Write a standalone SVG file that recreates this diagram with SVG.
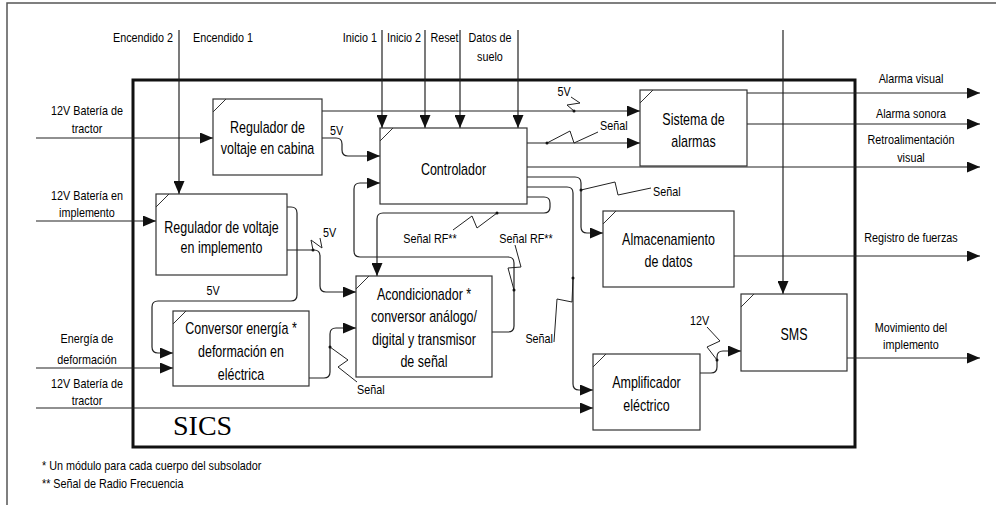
<svg xmlns="http://www.w3.org/2000/svg" width="996" height="505" viewBox="0 0 996 505">
<style>
text{font-family:"Liberation Sans",Arial,sans-serif;fill:#000}
.t{font-size:16px;text-anchor:middle}
.l{font-size:13px}
.m{text-anchor:middle}
.e{text-anchor:end}
.n rect{fill:#fff;stroke:#333;stroke-width:1.2}
.n path{fill:none;stroke:#333;stroke-width:1}
.c path{fill:none;stroke:#222;stroke-width:1.2;marker-end:url(#a)}
.z path{fill:none;stroke:#222;stroke-width:1}
.z circle{fill:#111}
</style>
<defs>
<marker id="a" markerUnits="userSpaceOnUse" markerWidth="13" markerHeight="11" refX="13" refY="5.5" orient="auto">
<path d="M0,0 L13,5.5 L0,11 z" fill="#111"/>
</marker>
</defs>
<rect x="0" y="0" width="996" height="505" fill="#fff"/>
<rect x="7" y="3" width="1000" height="520" fill="none" stroke="#555" stroke-width="1.5"/>
<rect x="133" y="80" width="722" height="367" fill="none" stroke="#111" stroke-width="3"/>
<text x="173" y="435" style="font-family:'Liberation Serif',serif;font-size:28px">SICS</text>

<g id="connectors">
<g class="c">
<path d="M179,30 V194"/>
<path d="M382,30 V128"/>
<path d="M425,30 V128"/>
<path d="M460,30 V128"/>
<path d="M518,30 V128"/>
<path d="M783,30 V294"/>
<path d="M36,138 H213"/>
<path d="M36,221 H156"/>
<path d="M36,368 H173"/>
<path d="M36,408 H593"/>
<path d="M747,93 H980"/>
<path d="M747,124 H980"/>
<path d="M527,167 H980"/>
<path d="M734,256 H980"/>
<path d="M847,358 H980"/>
<path d="M322,111 H640"/>
<path d="M527,143 H640"/>
<path d="M322,138 H336 Q342,138 342,144 V150 Q342,156 348,156 H380"/>
<path d="M527,197 H544 Q550,197 550,203 V207 Q550,213 544,213 H383 Q377,213 377,219 V276"/>
<path d="M492,332 H508 Q514,332 514,326 V263 Q514,257 508,257 H360 Q354,257 354,251 V189 Q354,183 360,183 H380"/>
<path d="M287,250 H314 Q320,250 320,256 V286 Q320,292 326,292 H356"/>
<path d="M287,207 H291 Q297,207 297,213 V295 Q297,301 291,301 H158 Q152,301 152,307 V347 Q152,353 158,353 H173"/>
<path d="M309,378 H324 Q330,378 330,372 V334 Q330,328 336,328 H356"/>
<path d="M527,177 H575 Q581,177 581,183 V227 Q581,233 587,233 H603"/>
<path d="M527,187 H567 Q573,187 573,193 V384 Q573,390 579,390 H593"/>
<path d="M700,373 H711 Q717,373 717,367 V357 Q717,351 723,351 H741"/>
</g>
<g class="z">
<path d="M571,97 L580,103 L567,105 L574,111"/><circle cx="574" cy="111" r="1.5"/>
<path d="M547,143 L570,131 L574,143 L598,132"/><circle cx="547" cy="143" r="1.5"/>
<path d="M497,213 L477,228 L472,216 L453,230"/><circle cx="497" cy="213" r="1.5"/>
<path d="M514,290 L508,268 L521,267 L515,245"/><circle cx="514" cy="290" r="1.5"/>
<path d="M313,250 L311,240 L322,248 L320,238"/><circle cx="313" cy="250" r="1.5"/>
<path d="M330,347 L348,360 L338,367 L357,382"/><circle cx="330" cy="347" r="1.5"/>
<path d="M581,190 L615,182 L618,195 L651,188"/><circle cx="581" cy="190" r="1.5"/>
<path d="M573,278 L572,302 L557,299 L554,342"/><circle cx="573" cy="278" r="1.5"/>
<path d="M717,360 L707,347 L720,341 L707,327"/><circle cx="717" cy="360" r="1.5"/>
</g>
<g class="l" transform="scale(0.83 1)">
<text x="208.43" y="42" class="e">Encendido 2</text>
<text x="232.53" y="42">Encendido 1</text>
<text x="454.22" y="42" class="e">Inicio 1</text>
<text x="486.75" y="42" class="m">Inicio 2</text>
<text x="535.54" y="42" class="m">Reset</text>
<text x="590.36" y="42" class="m">Datos de</text>
<text x="590.36" y="61" class="m">suelo</text>
<text x="104.82" y="115" class="m">12V Batería de</text>
<text x="104.82" y="133" class="m">tractor</text>
<text x="104.82" y="200" class="m">12V Batería en</text>
<text x="104.82" y="217" class="m">implemento</text>
<text x="104.82" y="343" class="m">Energía de</text>
<text x="104.82" y="364" class="m">deformación</text>
<text x="104.82" y="388" class="m">12V Batería de</text>
<text x="104.82" y="405" class="m">tractor</text>
<text x="1097.59" y="83" class="m">Alarma visual</text>
<text x="1097.59" y="118" class="m">Alarma sonora</text>
<text x="1097.59" y="144" class="m">Retroalimentación</text>
<text x="1097.59" y="162" class="m">visual</text>
<text x="1097.59" y="242" class="m">Registro de fuerzas</text>
<text x="1097.59" y="332" class="m">Movimiento del</text>
<text x="1097.59" y="349" class="m">implemento</text>
<text x="679.52" y="96" class="m">5V</text>
<text x="722.89" y="130">Señal</text>
<text x="397.59" y="135">5V</text>
<text x="518.07" y="243" class="m">Señal RF**</text>
<text x="633.73" y="243" class="m">Señal RF**</text>
<text x="786.75" y="196">Señal</text>
<text x="389.16" y="237">5V</text>
<text x="256.63" y="295" class="m">5V</text>
<text x="430.12" y="394">Señal</text>
<text x="666.27" y="343" class="e">Señal</text>
<text x="831.33" y="325">12V</text>
<text x="50.6" y="470">* Un módulo para cada cuerpo del subsolador</text>
<text x="50.6" y="488">** Señal de Radio Frecuencia</text>
</g>
</g>

<g id="n1" class="n"><rect x="213" y="99" width="109" height="76"/><path d="M213,112 L226,99"/>
<g transform="scale(0.78 1)"><text class="t" x="342.95" y="133">Regulador de</text><text class="t" x="342.95" y="154">voltaje en cabina</text></g></g>
<g id="n2" class="n"><rect x="156" y="194" width="131" height="81"/><path d="M156,207 L169,194"/>
<g transform="scale(0.78 1)"><text class="t" x="283.97" y="233">Regulador de voltaje</text><text class="t" x="283.97" y="253">en implemento</text></g></g>
<g id="n3" class="n"><rect x="380" y="128" width="147" height="76"/><path d="M380,141 L393,128"/>
<g transform="scale(0.78 1)"><text class="t" x="581.41" y="175">Controlador</text></g></g>
<g id="n4" class="n"><rect x="640" y="90" width="107" height="76"/><path d="M640,103 L653,90"/>
<g transform="scale(0.78 1)"><text class="t" x="889.10" y="125">Sistema de</text><text class="t" x="889.10" y="147">alarmas</text></g></g>
<g id="n5" class="n"><rect x="603" y="211" width="131" height="76"/><path d="M603,224 L616,211"/>
<g transform="scale(0.78 1)"><text class="t" x="857.05" y="245">Almacenamiento</text><text class="t" x="857.05" y="267">de datos</text></g></g>
<g id="n6" class="n"><rect x="356" y="276" width="136" height="101"/><path d="M356,289 L369,276"/>
<g transform="scale(0.78 1)"><text class="t" x="543.59" y="300">Acondicionador *</text><text class="t" x="543.59" y="322">conversor análogo/</text><text class="t" x="543.59" y="345">digital y transmisor</text><text class="t" x="543.59" y="367">de señal</text></g></g>
<g id="n7" class="n"><rect x="173" y="311" width="136" height="75"/><path d="M173,324 L186,311"/>
<g transform="scale(0.78 1)"><text class="t" x="308.97" y="334">Conversor energía *</text><text class="t" x="308.97" y="357">deformación en</text><text class="t" x="308.97" y="380">eléctrica</text></g></g>
<g id="n8" class="n"><rect x="593" y="354" width="107" height="76"/><path d="M593,367 L606,354"/>
<g transform="scale(0.78 1)"><text class="t" x="828.85" y="388">Amplificador</text><text class="t" x="828.85" y="411">eléctrico</text></g></g>
<g id="n9" class="n"><rect x="741" y="294" width="106" height="77"/><path d="M741,307 L754,294"/>
<g transform="scale(0.78 1)"><text class="t" x="1017.95" y="340">SMS</text></g></g>
</svg>
